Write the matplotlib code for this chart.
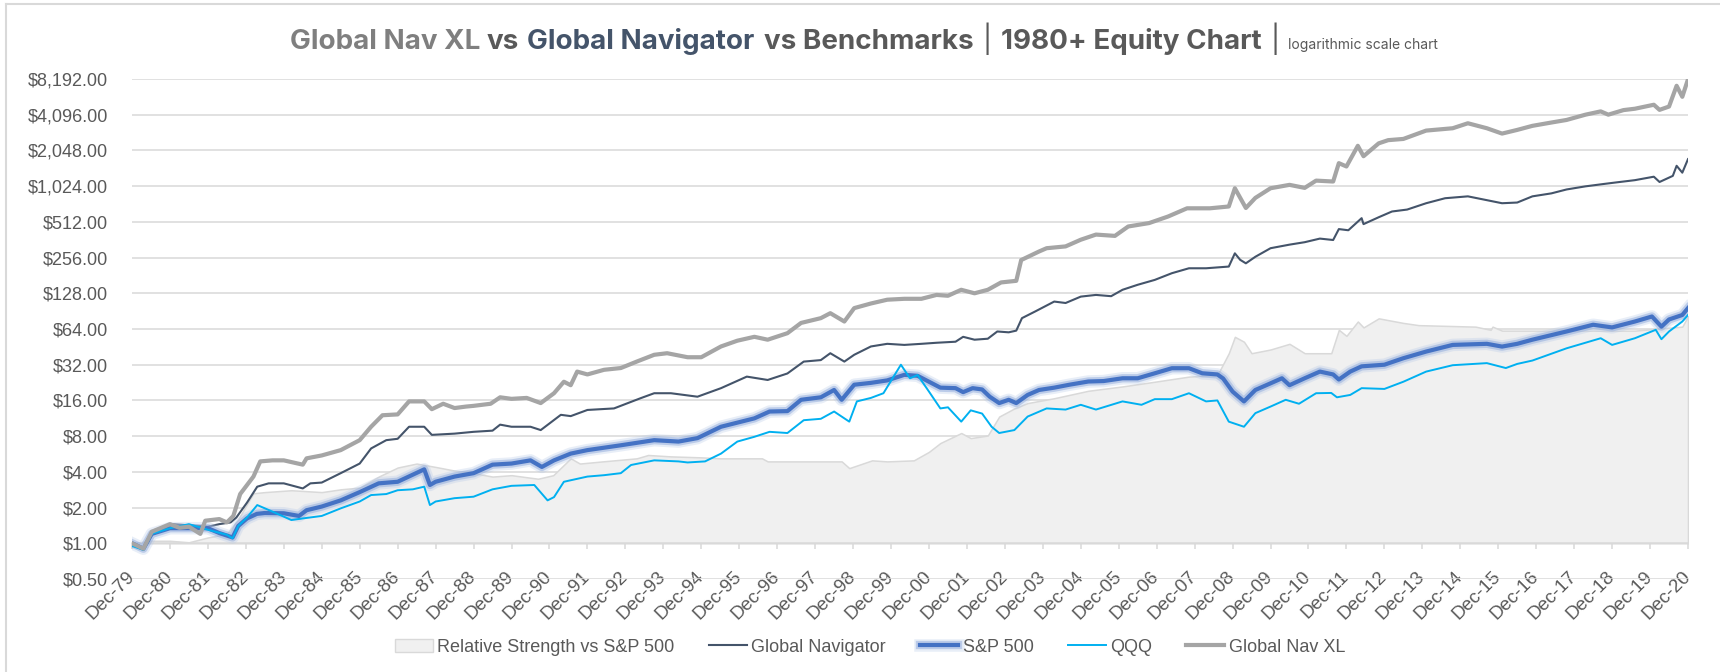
# Global Nav XL vs Global Navigator vs Benchmarks - log scale equity chart

import matplotlib
matplotlib.use("Agg")
import matplotlib.pyplot as plt
import matplotlib.patheffects as pe
from matplotlib.lines import Line2D
from matplotlib.patches import Patch
from matplotlib.ticker import FixedLocator, FuncFormatter

# x values are years after Dec-1979, y values are growth of $1
xl_data = [(0, 1.0), (0.3, 0.9), (0.52, 1.25), (1.0, 1.45), (1.25, 1.35), (1.5, 1.38), (1.8, 1.2),
           (1.93, 1.55), (2.3, 1.6), (2.5, 1.5), (2.67, 1.7), (2.85, 2.6), (3.2, 3.65), (3.38, 4.9),
           (3.7, 5.0), (4.0, 5.0), (4.5, 4.6), (4.6, 5.2), (5.0, 5.5), (5.5, 6.1), (6.0, 7.4), (6.3, 9.6),
           (6.6, 12.0), (7.0, 12.2), (7.3, 15.7), (7.7, 15.7), (7.9, 13.5), (8.2, 15.0), (8.5, 13.8),
           (8.8, 14.2), (9.0, 14.4), (9.45, 15.0), (9.7, 17.0), (10.0, 16.5), (10.4, 16.8), (10.77, 15.2),
           (11.12, 18.4), (11.38, 23.0), (11.56, 21.5), (11.73, 28.0), (12.0, 26.5), (12.44, 29.0),
           (12.88, 30.0), (13.3, 34.0), (13.76, 38.8), (14.1, 40.0), (14.64, 37.0), (15.0, 37.0),
           (15.52, 45.6), (15.95, 51.0), (16.4, 55.0), (16.75, 52.0), (17.27, 59.0), (17.63, 72.0),
           (18.15, 79.0), (18.4, 87.0), (18.77, 74.0), (19.03, 96.0), (19.47, 105.0), (19.9, 113.0),
           (20.35, 115.0), (20.8, 115.0), (21.2, 124.0), (21.5, 122.0), (21.85, 137.0), (22.2, 128.0),
           (22.55, 137.0), (22.9, 158.0), (23.3, 163.0), (23.43, 244.0), (23.9, 288.0), (24.1, 307.0),
           (24.6, 318.0), (25.0, 362.0), (25.4, 400.0), (25.9, 390.0), (26.25, 468.0), (26.8, 500.0),
           (27.3, 568.0), (27.8, 666.0), (28.4, 666.0), (28.9, 690.0), (29.06, 983.0), (29.35, 670.0),
           (29.6, 815.0), (30.0, 983.0), (30.5, 1050.0), (30.9, 990.0), (31.2, 1140.0), (31.65, 1120.0),
           (31.8, 1600.0), (32.0, 1500.0), (32.3, 2240.0), (32.45, 1830.0), (32.85, 2350.0),
           (33.1, 2500.0), (33.5, 2560.0), (34.1, 3010.0), (34.8, 3150.0), (35.2, 3470.0),
           (35.7, 3150.0), (36.1, 2840.0), (36.5, 3050.0), (36.9, 3300.0), (37.4, 3520.0),
           (37.8, 3700.0), (38.3, 4100.0), (38.7, 4370.0), (38.9, 4100.0), (39.3, 4480.0),
           (39.6, 4600.0), (40.1, 4970.0), (40.25, 4500.0), (40.5, 4800.0), (40.7, 7180.0),
           (40.85, 5800.0), (41.0, 8150.0)]

nav_data = [(0, 1.0), (0.3, 0.9), (0.52, 1.2), (1.0, 1.45), (1.5, 1.42), (2.0, 1.38), (2.3, 1.45),
            (2.6, 1.5), (2.75, 1.65), (3.03, 2.2), (3.3, 3.0), (3.6, 3.2), (4.0, 3.2), (4.5, 2.9),
            (4.7, 3.2), (5.0, 3.25), (5.5, 3.9), (6.0, 4.7), (6.3, 6.3), (6.7, 7.4), (7.0, 7.6),
            (7.3, 9.6), (7.7, 9.6), (7.9, 8.2), (8.5, 8.4), (9.0, 8.7), (9.5, 8.9), (9.7, 10.0),
            (10.0, 9.6), (10.5, 9.6), (10.77, 9.0), (11.3, 12.1), (11.56, 11.8), (12.0, 13.3),
            (12.7, 13.7), (13.4, 16.7), (13.76, 18.4), (14.2, 18.4), (14.9, 17.2), (15.52, 20.3),
            (16.2, 25.4), (16.75, 23.8), (17.27, 27.0), (17.7, 34.0), (18.15, 35.0), (18.4, 40.0),
            (18.77, 34.0), (19.03, 38.8), (19.47, 45.6), (19.9, 48.0), (20.35, 47.0), (20.8, 48.0),
            (21.2, 49.0), (21.7, 50.0), (21.9, 55.0), (22.2, 52.0), (22.55, 53.0), (22.8, 61.0),
            (23.1, 60.0), (23.3, 62.0), (23.45, 79.0), (23.8, 90.0), (24.3, 109.0), (24.6, 106.0),
            (25.0, 120.0), (25.4, 124.0), (25.8, 121.0), (26.1, 137.0), (26.5, 151.0), (26.95, 166.0),
            (27.4, 189.0), (27.85, 208.0), (28.3, 208.0), (28.9, 215.0), (29.06, 278.0), (29.2, 245.0),
            (29.35, 229.0), (29.6, 260.0), (30.0, 307.0), (30.5, 329.0), (30.9, 345.0), (31.3, 370.0),
            (31.65, 360.0), (31.8, 445.0), (32.05, 435.0), (32.4, 550.0), (32.45, 490.0), (32.85, 560.0),
            (33.2, 626.0), (33.6, 650.0), (34.1, 735.0), (34.6, 810.0), (35.2, 840.0), (35.7, 780.0),
            (36.1, 735.0), (36.5, 745.0), (36.9, 840.0), (37.4, 890.0), (37.8, 960.0), (38.3, 1020.0),
            (38.8, 1070.0), (39.1, 1100.0), (39.6, 1150.0), (40.1, 1230.0), (40.25, 1110.0),
            (40.6, 1250.0), (40.7, 1520.0), (40.85, 1330.0), (41.0, 1730.0)]

spx_data = [(0, 1.0), (0.3, 0.9), (0.52, 1.2), (1.0, 1.34), (1.5, 1.34), (2.0, 1.34), (2.3, 1.22),
            (2.65, 1.12), (2.8, 1.4), (3.03, 1.62), (3.29, 1.77), (3.5, 1.8), (4.0, 1.79), (4.4, 1.7),
            (4.6, 1.9), (5.0, 2.04), (5.5, 2.3), (6.0, 2.7), (6.5, 3.2), (7.0, 3.3), (7.7, 4.2),
            (7.85, 3.1), (8.0, 3.3), (8.5, 3.65), (9.0, 3.9), (9.5, 4.6), (10.0, 4.7), (10.5, 5.0),
            (10.8, 4.4), (11.12, 5.0), (11.56, 5.7), (12.0, 6.1), (12.88, 6.7), (13.76, 7.4),
            (14.4, 7.2), (14.9, 7.7), (15.52, 9.6), (16.4, 11.3), (16.8, 12.9), (17.27, 13.0),
            (17.63, 16.2), (18.15, 17.0), (18.5, 19.6), (18.7, 16.2), (19.03, 21.7), (19.47, 22.5),
            (19.9, 23.6), (20.35, 26.3), (20.7, 25.8), (21.0, 23.0), (21.3, 20.5), (21.7, 20.3),
            (21.9, 18.8), (22.15, 20.3), (22.4, 19.8), (22.6, 17.2), (22.85, 15.2), (23.1, 16.2),
            (23.3, 15.2), (23.6, 17.8), (23.9, 19.6), (24.3, 20.5), (24.7, 21.7), (25.2, 23.1),
            (25.6, 23.3), (26.1, 24.6), (26.5, 24.6), (26.95, 27.1), (27.4, 29.9), (27.85, 29.9),
            (28.2, 27.1), (28.6, 26.5), (28.75, 24.5), (29.0, 19.0), (29.3, 15.7), (29.6, 19.6),
            (30.0, 22.3), (30.3, 24.6), (30.5, 21.5), (30.9, 24.6), (31.3, 28.0), (31.65, 26.5),
            (31.8, 24.0), (32.1, 28.0), (32.4, 31.0), (33.0, 32.0), (33.5, 36.3), (34.1, 41.3),
            (34.8, 47.0), (35.7, 48.0), (36.1, 45.5), (36.5, 48.0), (36.9, 52.0), (37.8, 61.0),
            (38.5, 69.5), (39.0, 66.0), (39.6, 74.0), (40.05, 81.6), (40.3, 67.0), (40.5, 77.0),
            (40.85, 84.0), (41.0, 96.0)]

qqq_data = [(0, 0.95), (0.3, 0.88), (0.52, 1.2), (1.0, 1.34), (1.5, 1.45), (2.0, 1.3), (2.5, 1.18),
            (2.65, 1.1), (2.8, 1.4), (3.03, 1.65), (3.3, 2.1), (3.7, 1.85), (4.2, 1.57), (4.5, 1.62),
            (5.0, 1.7), (5.5, 1.97), (6.0, 2.25), (6.3, 2.55), (6.7, 2.6), (7.0, 2.8), (7.4, 2.85),
            (7.7, 3.0), (7.85, 2.1), (8.0, 2.25), (8.5, 2.4), (9.0, 2.47), (9.5, 2.85), (10.0, 3.05),
            (10.6, 3.1), (10.95, 2.3), (11.12, 2.45), (11.38, 3.3), (12.0, 3.65), (12.44, 3.75),
            (12.88, 3.9), (13.15, 4.57), (13.76, 5.0), (14.4, 4.9), (14.64, 4.8), (15.1, 4.9),
            (15.52, 5.7), (15.95, 7.2), (16.4, 7.9), (16.8, 8.7), (17.27, 8.5), (17.7, 10.9),
            (18.15, 11.2), (18.5, 12.9), (18.9, 10.6), (19.1, 15.7), (19.47, 16.8), (19.8, 18.4),
            (20.26, 32.0), (20.5, 24.6), (20.7, 26.2), (21.0, 19.0), (21.3, 13.7), (21.5, 14.0),
            (21.85, 10.6), (22.1, 13.2), (22.4, 12.4), (22.65, 9.6), (22.85, 8.5), (23.25, 9.0),
            (23.6, 11.7), (24.1, 13.7), (24.6, 13.4), (25.0, 14.7), (25.4, 13.4), (26.1, 15.7),
            (26.6, 14.7), (26.95, 16.4), (27.4, 16.4), (27.85, 18.4), (28.3, 15.7), (28.6, 16.0),
            (28.9, 10.6), (29.3, 9.6), (29.6, 12.5), (30.0, 14.2), (30.4, 16.2), (30.75, 15.0),
            (31.2, 18.4), (31.6, 18.5), (31.75, 17.0), (32.1, 17.8), (32.4, 20.3), (33.0, 20.0),
            (33.5, 23.0), (34.1, 28.0), (34.8, 31.7), (35.7, 33.0), (36.2, 30.0), (36.5, 32.5),
            (36.9, 34.7), (37.8, 44.0), (38.7, 53.5), (39.0, 47.0), (39.6, 53.5), (40.15, 63.0),
            (40.3, 52.5), (40.5, 61.0), (40.85, 74.0), (41.0, 84.0)]

rel_data = [(0, 1.0), (0.5, 1.05), (1.0, 1.05), (1.5, 1.02), (2.0, 1.12), (2.5, 1.2), (2.8, 1.6),
            (3.2, 2.64), (3.5, 2.7), (4.2, 2.8), (5.0, 2.7), (5.5, 2.85), (6.0, 2.95), (6.5, 3.65),
            (7.0, 4.35), (7.5, 4.7), (8.0, 4.4), (8.5, 4.1), (9.0, 3.9), (9.5, 3.65), (10.0, 3.75),
            (10.7, 3.5), (11.1, 3.75), (11.56, 5.2), (11.8, 4.7), (12.4, 4.9), (13.3, 5.2), (13.6, 5.55),
            (14.2, 5.4), (15.0, 5.3), (15.5, 5.2), (16.6, 5.2), (16.75, 4.9), (18.7, 4.9), (18.9, 4.3),
            (19.5, 5.0), (19.9, 4.9), (20.6, 5.0), (21.0, 5.9), (21.3, 7.0), (21.85, 8.5), (22.1, 7.7),
            (22.55, 8.1), (22.85, 11.7), (23.25, 13.7), (23.6, 15.2), (24.3, 16.7), (25.2, 19.3),
            (26.1, 21.0), (26.95, 23.0), (27.85, 25.4), (28.6, 26.2), (28.9, 40.0), (29.06, 55.0),
            (29.3, 50.0), (29.5, 40.0), (30.0, 43.0), (30.5, 48.0), (30.9, 40.0), (31.6, 40.0),
            (31.8, 63.0), (32.0, 56.0), (32.3, 74.0), (32.45, 66.0), (32.85, 78.7), (33.5, 72.0),
            (33.9, 69.0), (35.4, 67.0), (35.8, 63.0), (35.85, 67.0), (36.1, 62.0), (39.6, 62.0),
            (40.85, 67.0), (41.0, 82.0)]

tick_labels = ["Dec-%02d" % (y % 100) for y in range(1979, 2021)]
y_ticks = [2.0 ** k for k in range(-1, 14)]

TEXT = "#595959"
GRID = "#D9D9D9"

plt.rcParams["font.family"] = ["Liberation Sans", "DejaVu Sans"]

fig = plt.figure(figsize=(17.2, 6.72), dpi=100)
W, H = 1720, 672
ax = fig.add_axes([132 / W, 1 - 579 / H, (1688 - 132) / W, (579 - 79) / H])

ax.set_yscale("log", base=2)
ax.set_ylim(0.5, 8192)
ax.set_xlim(0, 41)

# relative strength area (filled from the $1 axis)
rx, ry = zip(*rel_data)
ax.fill_between(rx, 1.0, ry, facecolor="#F0F0F0", edgecolor=GRID, linewidth=1.1, zorder=1)

nx_, ny_ = zip(*nav_data)
ax.plot(nx_, ny_, color="#44546A", lw=1.5, zorder=3)

glow = [pe.Stroke(linewidth=9, foreground="#B4C7E7", alpha=0.3),
        pe.Stroke(linewidth=6, foreground="#8FAADC", alpha=0.5),
        pe.Normal()]
sx, sy = zip(*spx_data)
ax.plot(sx, sy, color="#4472C4", lw=3.0, zorder=4, path_effects=glow)

qx, qy = zip(*qqq_data)
ax.plot(qx, qy, color="#00B0F0", lw=1.4, zorder=5)

gx, gy = zip(*xl_data)
ax.plot(gx, gy, color="#A5A5A5", lw=3.0, zorder=6)

# axes styling
ax.set_axisbelow(True)
ax.yaxis.set_major_locator(FixedLocator(y_ticks))
ax.yaxis.set_minor_locator(FixedLocator([]))
ax.yaxis.set_major_formatter(FuncFormatter(lambda v, p: "${:,.2f}".format(v)))
ax.yaxis.grid(True, color=GRID, lw=1.1)
ax.tick_params(axis="y", length=0, pad=17, labelsize=13, labelcolor=TEXT)

for s in ["left", "right", "top"]:
    ax.spines[s].set_visible(False)
ax.spines["bottom"].set_position(("data", 1.0))
ax.spines["bottom"].set_color(GRID)
ax.spines["bottom"].set_linewidth(1.1)

ax.set_xticks(range(len(tick_labels)))
ax.set_xticklabels(tick_labels, rotation=45, ha="right", va="center", rotation_mode="anchor")
ax.tick_params(axis="x", direction="out", length=4, width=1.1, color=GRID, pad=18,
               labelsize=13.5, labelcolor=TEXT)

# outer frame lines (top and left)
fig.add_artist(Line2D([6 / W, 1.0], [1 - 4 / H, 1 - 4 / H], transform=fig.transFigure, color=GRID, lw=1.5))
fig.add_artist(Line2D([6 / W, 6 / W], [0, 1 - 4 / H], transform=fig.transFigure, color=GRID, lw=1.5))

# legend
handles = [
    Patch(facecolor="#F0F0F0", edgecolor=GRID, label="Relative Strength vs S&P 500"),
    Line2D([0], [0], color="#44546A", lw=1.5, label="Global Navigator"),
    Line2D([0], [0], color="#4472C4", lw=3.0, path_effects=glow, label="S&P 500"),
    Line2D([0], [0], color="#00B0F0", lw=1.4, label="QQQ"),
    Line2D([0], [0], color="#A5A5A5", lw=3.0, label="Global Nav XL"),
]
leg = fig.legend(handles=handles, loc="center", bbox_to_anchor=(870 / W, 1 - 647 / H), ncol=5,
                 frameon=False, fontsize=13, handlelength=2.1, handleheight=0.7,
                 handletextpad=0.25, columnspacing=1.9)
for t in leg.get_texts():
    t.set_color(TEXT)

# multi-coloured title
parts = [
    ("Global Nav XL", "#7F7F7F", "bold", 20),
    ("vs", TEXT, "bold", 20),
    ("Global Navigator", "#44546A", "bold", 20),
    ("vs Benchmarks", TEXT, "bold", 20),
    ("|", TEXT, "normal", 20),
    ("1980+ Equity Chart", TEXT, "bold", 20),
    ("|", TEXT, "normal", 20),
    ("logarithmic scale chart", TEXT, "normal", 10),
]
gaps = [6, 9, 9, 9, 9, 9, 9]
fig.canvas.draw()
renderer = fig.canvas.get_renderer()
texts = []
widths = []
for s, c, w, size in parts:
    t = fig.text(0, 1 - 49 / H, s, color=c, fontweight=w, fontsize=size,
                 family=["Inter", "DejaVu Sans"], va="baseline", ha="left")
    texts.append(t)
    widths.append(t.get_window_extent(renderer).width)
total = sum(widths) + sum(gaps)
x = 864 - total / 2
for i, t in enumerate(texts):
    t.set_x(x / W)
    x += widths[i] + (gaps[i] if i < len(gaps) else 0)

fig.savefig("out.png", dpi=100, facecolor="white")
